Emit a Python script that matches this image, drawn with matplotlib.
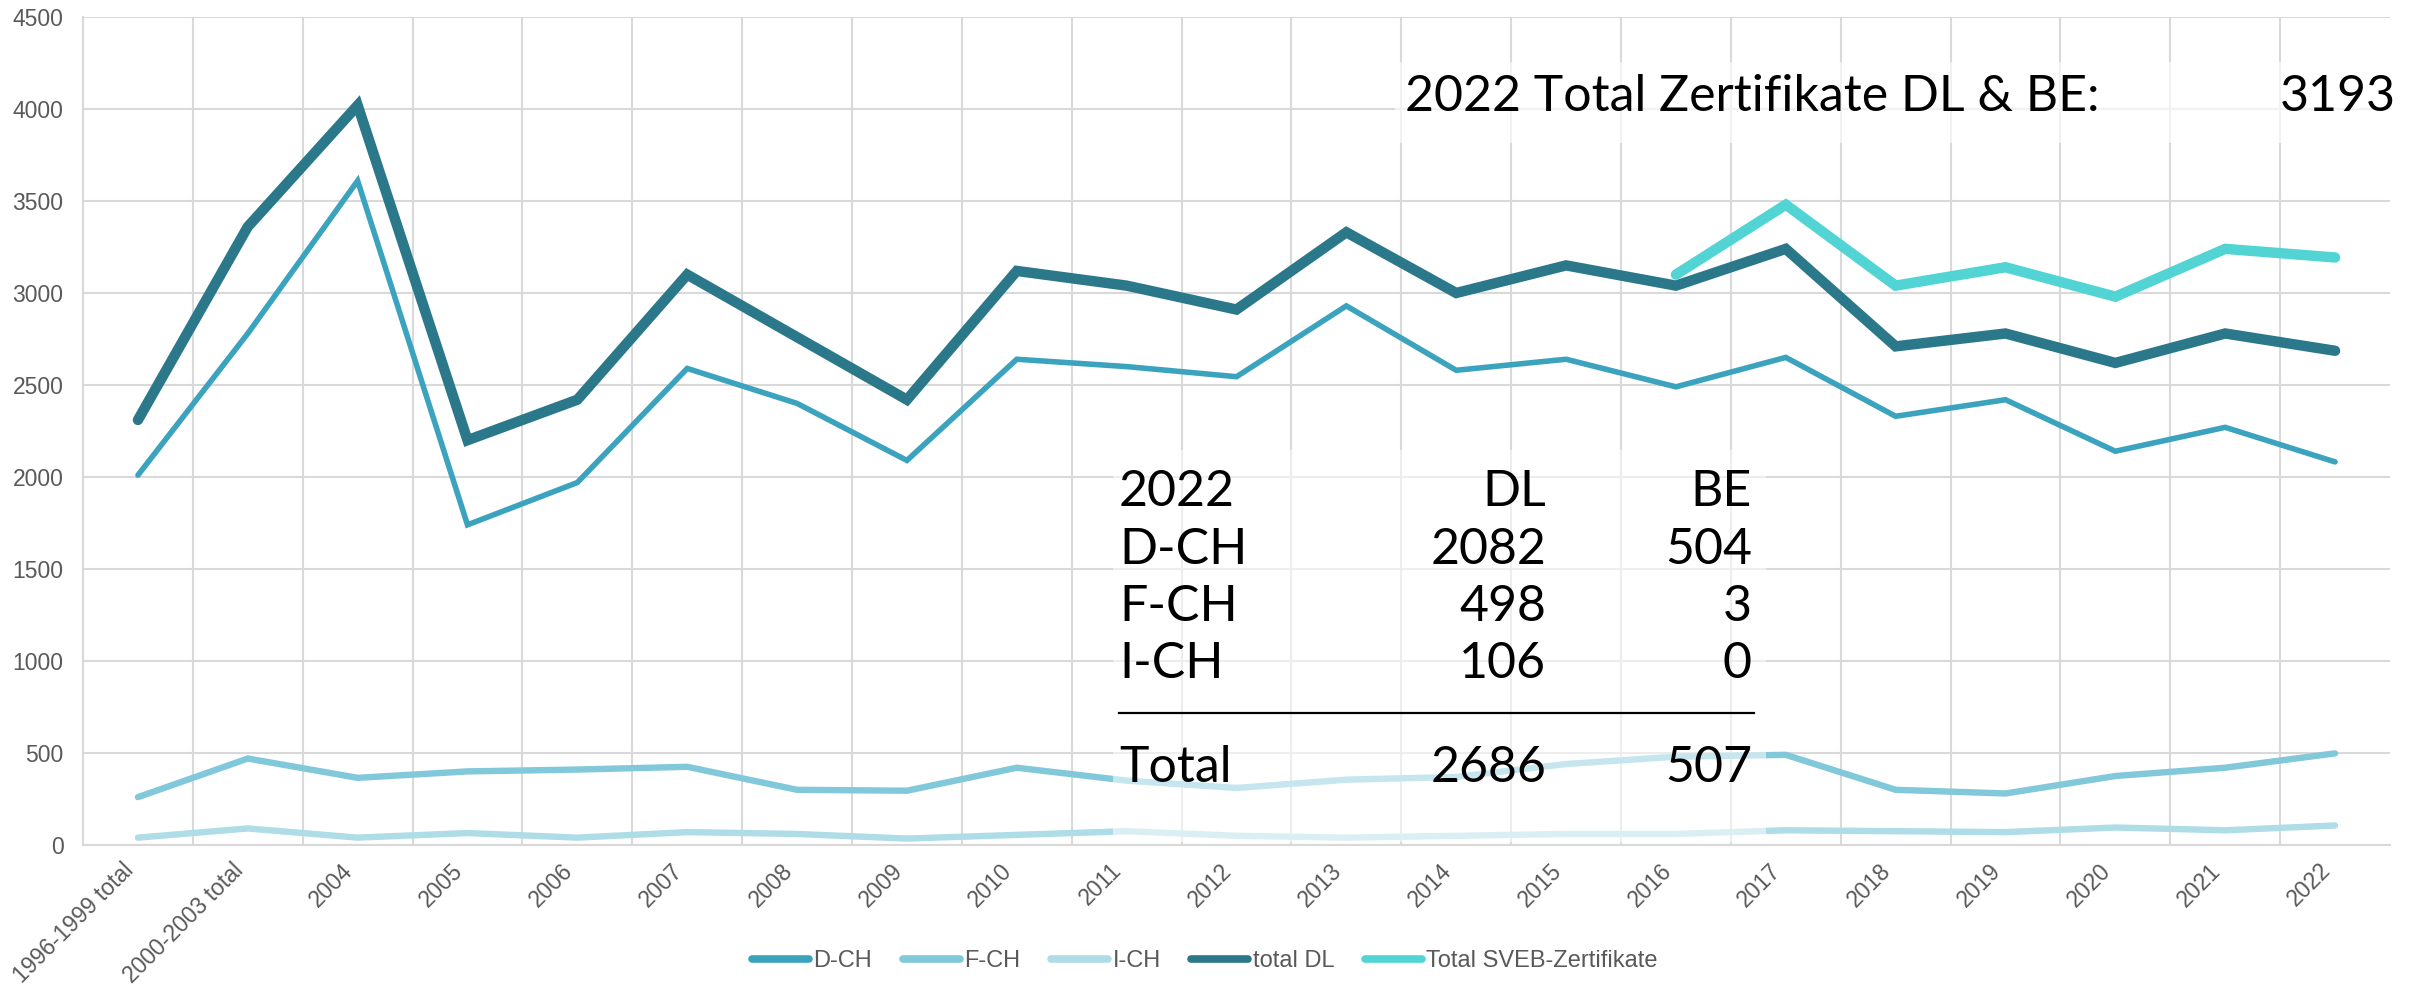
import matplotlib
matplotlib.use("Agg")
import matplotlib.pyplot as plt
import numpy as np
from matplotlib.patches import Rectangle

# categories and series
categories = ["1996-1999 total", "2000-2003 total", "2004", "2005", "2006", "2007",
              "2008", "2009", "2010", "2011", "2012", "2013", "2014", "2015",
              "2016", "2017", "2018", "2019", "2020", "2021", "2022"]
d_ch = [2010, 2780, 3610, 1740, 1970, 2590, 2400, 2090, 2640, 2600, 2545,
        2930, 2580, 2640, 2490, 2650, 2330, 2420, 2140, 2270, 2082]
f_ch = [260, 470, 365, 400, 410, 425, 300, 295, 420, 350, 310,
        355, 370, 440, 480, 490, 300, 280, 375, 420, 498]
i_ch = [40, 90, 40, 65, 40, 70, 60, 35, 55, 75, 50,
        40, 50, 60, 60, 80, 75, 70, 95, 80, 106]
total_dl = [2310, 3360, 4020, 2200, 2420, 3100, 2760, 2420, 3120, 3040, 2910,
            3330, 3000, 3150, 3040, 3240, 2710, 2780, 2620, 2780, 2686]
sveb_years = ["2016", "2017", "2018", "2019", "2020", "2021", "2022"]
sveb_total = [3100, 3480, 3040, 3140, 2980, 3240, 3193]

# 2022 summary table
table_rows = ["2022", "D-CH", "F-CH", "I-CH"]
table_dl = ["DL", "2082", "498", "106"]
table_be = ["BE", "504", "3", "0"]
table_total = ["Total", "2686", "507"]
header_label = "2022 Total Zertifikate DL & BE:"
header_value = "3193"

W, H = 2410, 991
fig = plt.figure(figsize=(W / 100, H / 100), dpi=100)
ax = fig.add_axes([83 / W, 1 - 845 / H, (2390 - 83) / W, (845 - 17) / H])

x = np.arange(len(categories))
sveb = np.full(len(categories), np.nan)
for yr, v in zip(sveb_years, sveb_total):
    sveb[categories.index(yr)] = v

style = dict(solid_joinstyle="miter", solid_capstyle="round")
ax.plot(x, d_ch, color="#3BA3BE", lw=4.0, label="D-CH", zorder=3, **style)
ax.plot(x, f_ch, color="#80C8DA", lw=4.6, label="F-CH", zorder=3, **style)
ax.plot(x, i_ch, color="#AEDCE7", lw=4.6, label="I-CH", zorder=2.9, **style)
ax.plot(x, total_dl, color="#2B788B", lw=7.5, label="total DL", zorder=3.1, **style)
ax.plot(x, sveb, color="#52D4D4", lw=7.5, label="Total SVEB-Zertifikate", zorder=3.2, **style)

ax.set_xlim(-0.5, len(categories) - 0.5)
ax.set_ylim(0, 4500)
ax.set_yticks(np.arange(0, 4501, 500))
ax.set_xticks(x)
ax.set_xticks(x[:-1] + 0.5, minor=True)
ax.set_xticklabels(categories, rotation=45, ha="right", rotation_mode="default")
ax.grid(axis="y", color="#d9d9d9", lw=1.5, zorder=0)
ax.grid(axis="x", which="minor", color="#d9d9d9", lw=1.5, zorder=0)
ax.set_axisbelow(True)
for s in ["top", "right"]:
    ax.spines[s].set_visible(False)
for s in ["left", "bottom"]:
    ax.spines[s].set_color("#d9d9d9")
    ax.spines[s].set_linewidth(1.5)
ax.tick_params(axis="both", which="both", length=0)
ax.tick_params(axis="y", pad=14)
ax.tick_params(axis="x", pad=10)
for lab in ax.get_xticklabels() + ax.get_yticklabels():
    lab.set_fontfamily("Liberation Sans")
    lab.set_fontsize(16.5)
    lab.set_color("#595959")

leg = fig.legend(loc="center", bbox_to_anchor=(0.5, 1 - 961 / H), ncol=5,
                 frameon=False, handlelength=2.4, handletextpad=0.2,
                 columnspacing=1.3,
                 prop={"family": ["Liberation Sans Narrow", "Liberation Sans"], "size": 17})
for t in leg.get_texts():
    t.set_color("#595959")
for h in leg.get_lines():
    h.set_linewidth(5.5)

# translucent white boxes behind the annotations
def fx(px):
    return px / W

def fy(py):
    return 1 - py / H

fig.patches.append(Rectangle((fx(1113), fy(842)), fx(1766) - fx(1113), fy(450) - fy(842),
                             transform=fig.transFigure, facecolor="white", alpha=0.55,
                             edgecolor="none", zorder=5))
fig.patches.append(Rectangle((fx(1395), fy(143)), fx(2410) - fx(1395), fy(62) - fy(143),
                             transform=fig.transFigure, facecolor="white", alpha=0.65,
                             edgecolor="none", zorder=5))

tfont = dict(family=["Lato", "DejaVu Sans"], weight="normal", size=36, color="black", zorder=6)
row_y = [506, 564, 621, 678]
for ry, a, b, c in zip(row_y, table_rows, table_dl, table_be):
    fig.text(fx(1119), fy(ry), a, ha="left", va="baseline", **tfont)
    fig.text(fx(1546), fy(ry), b, ha="right", va="baseline", **tfont)
    fig.text(fx(1752), fy(ry), c, ha="right", va="baseline", **tfont)
fig.lines.append(plt.Line2D([fx(1119), fx(1754)], [fy(713), fy(713)], transform=fig.transFigure,
                            color="black", lw=1.6, zorder=6))
fig.text(fx(1119), fy(782), table_total[0], ha="left", va="baseline", **tfont)
fig.text(fx(1546), fy(782), table_total[1], ha="right", va="baseline", **tfont)
fig.text(fx(1752), fy(782), table_total[2], ha="right", va="baseline", **tfont)

fig.text(fx(1405), fy(111), header_label, ha="left", va="baseline", **tfont)
fig.text(fx(2396), fy(111), header_value, ha="right", va="baseline", **tfont)

fig.savefig("out.png", dpi=100, facecolor="white")
